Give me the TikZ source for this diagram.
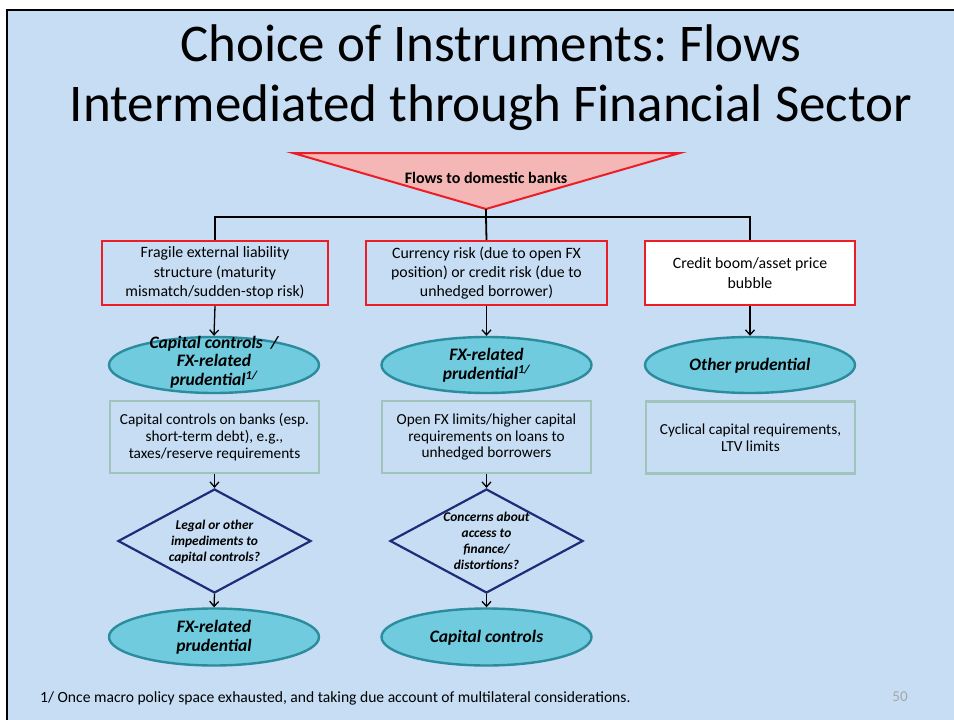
\documentclass[tikz,border=0pt]{standalone}
\usepackage{fontspec}
\setmainfont{Carlito}
\usetikzlibrary{shapes.geometric,arrows.meta}
\frenchspacing

\definecolor{slidebg}{HTML}{C6DDF3}
\definecolor{alertred}{HTML}{EE1C24}
\definecolor{pinkfill}{HTML}{F4B7B5}
\definecolor{tealfill}{HTML}{6FCBDD}
\definecolor{tealline}{HTML}{2B8C9E}
\definecolor{toolline}{HTML}{A0C4BB}
\definecolor{navyline}{HTML}{1E2C7A}
\definecolor{pagegray}{HTML}{A6A6A6}

\tikzset{
  x=1pt, y=-1pt,
  riskbox/.style={draw=alertred, line width=2.4pt, minimum width=#1, minimum height=64pt,
    inner sep=0pt, align=center,
    font=\fontsize{15.8}{19.3}\selectfont},
  toolbox/.style={draw=toolline, line width=2.2pt, minimum width=209pt, minimum height=72pt,
    inner sep=0pt, align=center,
    font=\fontsize{15.3}{16.9}\selectfont},
  policy/.style={ellipse, draw=tealline, fill=tealfill, line width=2.4pt,
    minimum width=210pt, minimum height=56pt, inner sep=0pt},
  policytext/.style={align=center, inner sep=0pt,
    font=\fontsize{17.5}{18.6}\selectfont\bfseries\itshape},
  question/.style={diamond, draw=navyline, line width=2.2pt, aspect=1.85,
    minimum width=193pt, minimum height=104pt, inner sep=0pt},
  questiontext/.style={align=center, inner sep=0pt,
    font=\fontsize{13.4}{16}\selectfont\bfseries\itshape},
  tree/.style={line width=1.8pt, black},
  flow/.style={line width=1.3pt, black, -{Straight Barb[length=5pt,width=9pt]}},
}

\begin{document}
\begin{tikzpicture}
% slide canvas
\useasboundingbox (0,0) rectangle (954,720);
\fill[white] (0,0) rectangle (954,720);
\fill[slidebg] (7,10) rectangle (954,720);
\draw[line width=2pt, black] (7,720) -- (7,10) -- (954,10);

% title
\node[font=\fontsize{53}{60}\selectfont, align=center, inner sep=0pt] (title) at (491,78)
  {Choice of Instruments: Flows\\Intermediated through Financial Sector};

% inflow triangle
\draw[draw=alertred, fill=pinkfill, line width=2pt] (293,153) -- (680,153) -- (486,209) -- cycle;
\coordinate (apex) at (486,209);
\node[font=\fontsize{16}{18}\selectfont\bfseries, inner sep=0pt] (flows) at (486,178) {Flows to domestic banks};
\coordinate (split) at (486,217);

% risks
\node[riskbox=226pt] (risk1) at (215,273) {Fragile external liability\\structure (maturity\\mismatch/sudden-stop risk)};
\node[riskbox=241pt] (risk2) at (486.5,273) {Currency risk (due to open FX\\position) or credit risk (due to\\unhedged borrower)};
\node[riskbox=210pt, fill=white] (risk3) at (750,273) {Credit boom/asset price\\bubble};

% policy responses
\node[policy] (pol1) at (214,365) {};
\node[policytext] (pol1t) at (214,362) {Capital controls ~/\\FX-related\\prudential\textsuperscript{1/}};
\node[policy] (pol2) at (486.5,365) {};
\node[policytext] (pol2t) at (486.5,365.5) {FX-related\\prudential\textsuperscript{1/}};
\node[policy] (pol3) at (750,365) {};
\node[policytext] (pol3t) at (750,366) {Other prudential};

% instruments
\node[toolbox] (tool1) at (214.5,437) {Capital controls on banks (esp.\\short-term debt), e.g.,\\taxes/reserve requirements};
\node[toolbox] (tool2) at (486.5,437) {Open FX limits/higher capital\\requirements on loans to\\unhedged borrowers};
\node[toolbox] (tool3) at (750.5,437.5) {Cyclical capital requirements,\\LTV limits};

% decision points
\node[question] (q1) at (214.5,541) {};
\node[questiontext] (q1t) at (214.5,542) {Legal or other\\impediments to\\capital controls?};
\node[question] (q2) at (486.5,541) {};
\node[questiontext] (q2t) at (486.5,541) {Concerns about\\access to\\finance/\\distortions?};

% fallback instruments
\node[policy, minimum height=57pt] (alt1) at (214,637) {};
\node[policytext] (alt1t) at (214,637.5) {FX-related\\prudential};
\node[policy, minimum height=57pt] (alt2) at (486.5,637) {};
\node[policytext] (alt2t) at (486.5,638) {Capital controls};

% tree from the inflow
\draw[tree] (apex) -- (split);
\draw[tree] (split) -| (risk1.north);
\draw[tree] (split) -| (risk3.north);
\draw[tree] (split) -- (risk2.north);

% arrows
\draw[flow] (risk1.south) -- (pol1.north);
\draw[flow] (risk2.south) -- (pol2.north);
\draw[flow] (risk3.south) -- (pol3.north);
\draw[flow] (tool1.south) -- (q1.north);
\draw[flow] (tool2.south) -- (q2.north);
\draw[flow] (q1.south) -- (alt1.north);
\draw[flow] (q2.south) -- (alt2.north);

% footer
\node[anchor=west, inner sep=0pt, font=\fontsize{15.6}{18}\selectfont] (note) at (40,698)
  {1/ Once macro policy space exhausted, and taking due account of multilateral considerations.};
\node[inner sep=0pt, text=pagegray, font=\fontsize{15}{18}\selectfont] (page) at (900,697) {50};
\end{tikzpicture}
\end{document}
